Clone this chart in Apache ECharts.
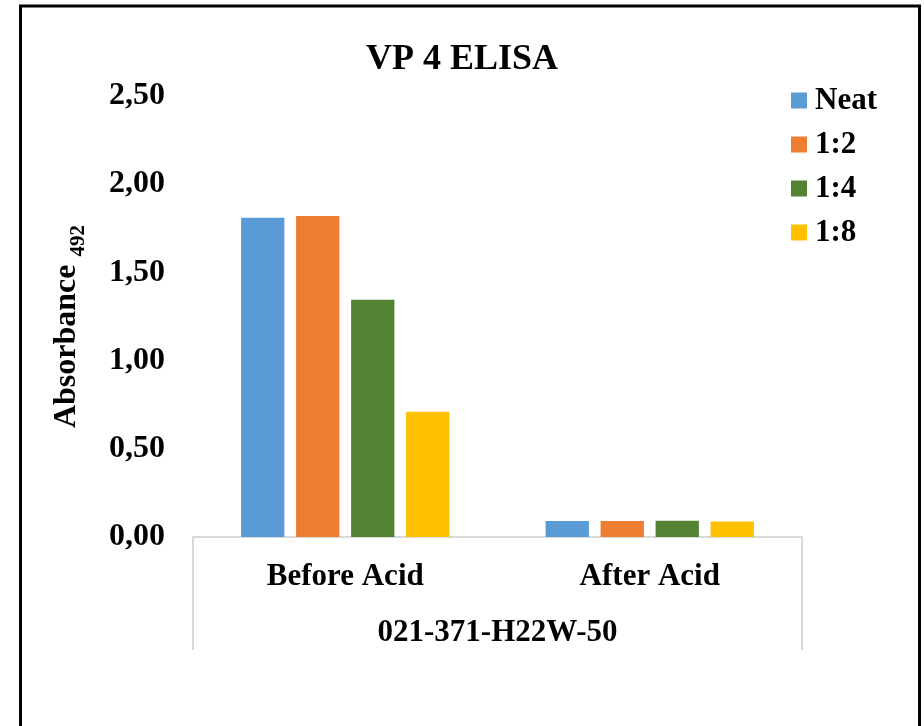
<!DOCTYPE html>
<html>
<head>
<meta charset="utf-8">
<script src="https://cdn.jsdelivr.net/npm/echarts@6/dist/echarts.min.js"></script>
<style>
  html, body { margin: 0; padding: 0; background: #fff; }
  #chart { width: 924px; height: 726px; }
</style>
</head>
<body>
<div id="chart"></div>
<script>
const categories = ['Before Acid', 'After Acid']
const groupLabel = '021-371-H22W-50'
const seriesNames = ['Neat', '1:2', '1:4', '1:8']
const neat = [1.81, 0.09]
const dil2 = [1.82, 0.09]
const dil4 = [1.345, 0.092]
const dil8 = [0.71, 0.088]
const colors = ['#5b9bd5', '#ed7d31', '#548235', '#ffc000']

const font = '"Liberation Serif", "Times New Roman", serif'
const grid = { left: 193, right: 122, top: 96, bottom: 189 }
const W = 924
const H = 726
const x0 = grid.left
const x1 = W - grid.right
const yAxisPx = H - grid.bottom

const chart = echarts.init(document.getElementById('chart'))

chart.setOption({
  backgroundColor: '#fff',
  animation: false,
  title: {
    text: 'VP 4 ELISA',
    left: 'center',
    top: 37,
    textStyle: { fontFamily: font, fontWeight: 'bold', fontSize: 36, color: '#000' }
  },
  legend: {
    data: seriesNames,
    orient: 'vertical',
    left: 786,
    top: 80,
    itemWidth: 16,
    itemHeight: 16,
    itemGap: 13,
    icon: 'rect',
    textStyle: { fontFamily: font, fontWeight: 'bold', fontSize: 31, color: '#000', padding: [0, 0, 0, 3] }
  },
  grid: grid,
  xAxis: {
    type: 'category',
    data: categories,
    name: groupLabel,
    nameLocation: 'middle',
    nameGap: 80,
    nameTextStyle: { fontFamily: font, fontWeight: 'bold', fontSize: 31, color: '#000' },
    axisLine: { lineStyle: { color: '#d9d9d9', width: 2 } },
    axisTick: { show: false },
    axisLabel: { margin: 24, fontFamily: font, fontWeight: 'bold', fontSize: 31, color: '#000' }
  },
  yAxis: {
    type: 'value',
    min: 0,
    max: 2.5,
    interval: 0.5,
    name: '{a|Absorbance }{b|492}',
    nameLocation: 'middle',
    nameRotate: 90,
    nameGap: 110,
    nameTextStyle: {
      padding: [0, 20, 0, 0],
      rich: {
        a: { fontFamily: font, fontWeight: 'bold', fontSize: 32, color: '#000', verticalAlign: 'bottom', lineHeight: 34 },
        b: { fontFamily: font, fontWeight: 'bold', fontSize: 21, color: '#000', verticalAlign: 'bottom', lineHeight: 34, padding: [0, 0, -6, 0] }
      }
    },
    axisLine: { show: false },
    axisTick: { show: false },
    splitLine: { show: false },
    axisLabel: {
      margin: 28,
      fontFamily: font,
      fontWeight: 'bold',
      fontSize: 32,
      color: '#000',
      formatter: v => v.toFixed(2).replace('.', ',')
    }
  },
  series: [
    { name: seriesNames[0], type: 'bar', data: neat, itemStyle: { color: colors[0] }, barGap: '27%', barCategoryGap: '31.6%' },
    { name: seriesNames[1], type: 'bar', data: dil2, itemStyle: { color: colors[1] } },
    { name: seriesNames[2], type: 'bar', data: dil4, itemStyle: { color: colors[2] } },
    { name: seriesNames[3], type: 'bar', data: dil8, itemStyle: { color: colors[3] } }
  ],
  graphic: [
    // outer frame (bottom edge runs off the page)
    { type: 'rect', shape: { x: 20.5, y: 6, width: 899, height: 800 }, style: { fill: null, stroke: '#000', lineWidth: 3 }, silent: true },
    // multi-level category table edges
    { type: 'line', shape: { x1: x0, y1: yAxisPx, x2: x0, y2: 650 }, style: { stroke: '#d9d9d9', lineWidth: 2 }, silent: true },
    { type: 'line', shape: { x1: x1, y1: yAxisPx, x2: x1, y2: 650 }, style: { stroke: '#d9d9d9', lineWidth: 2 }, silent: true }
  ]
})
</script>
</body>
</html>
